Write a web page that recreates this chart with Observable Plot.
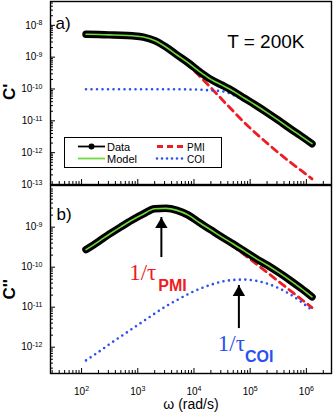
<!DOCTYPE html>
<html><head><meta charset="utf-8">
<script src="https://cdn.jsdelivr.net/npm/d3@7"></script>
<script src="https://cdn.jsdelivr.net/npm/@observablehq/plot@0.6"></script>
<style>
body{margin:0;background:#fff;}
#wrap{position:relative;width:333px;height:417px;overflow:hidden;background:#fff;font-family:"Liberation Sans",Arial,sans-serif;}
#wrap svg{display:block;}
#legend{position:absolute;left:0;top:0;}
</style></head><body><div id="wrap"></div>
<script>
// angular frequency (rad/s)
const omega = [120, 200, 316, 501, 794, 1260, 2000, 3160, 5010, 7940, 12600, 20000, 31600, 50100, 79400, 126000, 200000, 316000, 501000, 794000, 1260000];
// panel a: C'
const dataA  = [5.25e-9, 5.13e-9, 5.01e-9, 4.90e-9, 4.68e-9, 4.27e-9, 3.31e-9, 2.09e-9, 1.17e-9, 6.61e-10, 3.5e-10, 2.0e-10, 1.32e-10, 8.51e-11, 5.13e-11, 3.09e-11, 1.82e-11, 1.05e-11, 5.89e-12, 3.39e-12, 1.91e-12];
const modelA = [5.25e-9, 5.13e-9, 5.01e-9, 4.90e-9, 4.68e-9, 4.27e-9, 3.31e-9, 2.09e-9, 1.17e-9, 6.61e-10, 3.5e-10, 2.0e-10, 1.32e-10, 8.51e-11, 5.13e-11, 3.09e-11, 1.82e-11, 1.05e-11, 5.89e-12, 3.39e-12, 1.91e-12];
const pmiA   = [5.15e-9, 5.03e-9, 4.91e-9, 4.80e-9, 4.58e-9, 4.17e-9, 3.21e-9, 1.99e-9, 1.07e-9, 5.6e-10, 2.51e-10, 1.10e-10, 4.68e-11, 2.0e-11, 8.71e-12, 4.07e-12, 2.0e-12, 1.0e-12, 5.25e-13, 2.82e-13, 1.5e-13];
const coiA   = [9.8e-11, 9.8e-11, 9.8e-11, 9.8e-11, 9.8e-11, 9.8e-11, 9.8e-11, 9.8e-11, 9.8e-11, 9.7e-11, 9.5e-11, 9.0e-11, 8.5e-11, 6.5e-11, 4.26e-11, 2.68e-11, 1.62e-11, 9.5e-12, 5.37e-12, 3.1e-12, 1.7e-12];
// panel b: C''
const dataB  = [2.75e-10, 4.37e-10, 6.76e-10, 1.02e-9, 1.51e-9, 2.14e-9, 2.88e-9, 2.95e-9, 2.63e-9, 2.0e-9, 1.29e-9, 8.51e-10, 5.62e-10, 3.80e-10, 2.51e-10, 1.66e-10, 1.13e-10, 7.49e-11, 4.83e-11, 3.0e-11, 1.81e-11];
const modelB = [2.75e-10, 4.37e-10, 6.76e-10, 1.02e-9, 1.51e-9, 2.14e-9, 2.88e-9, 2.95e-9, 2.63e-9, 2.0e-9, 1.29e-9, 8.51e-10, 5.62e-10, 3.80e-10, 2.51e-10, 1.66e-10, 1.13e-10, 7.49e-11, 4.83e-11, 3.0e-11, 1.81e-11];
const pmiB   = [2.75e-10, 4.37e-10, 6.75e-10, 1.02e-9, 1.51e-9, 2.13e-9, 2.87e-9, 2.94e-9, 2.61e-9, 1.98e-9, 1.26e-9, 8.15e-10, 5.18e-10, 3.32e-10, 2.02e-10, 1.23e-10, 7.41e-11, 4.47e-11, 2.69e-11, 1.62e-11, 9.77e-12];
const coiB   = [4.68e-13, 7.59e-13, 1.20e-12, 1.86e-12, 2.88e-12, 4.47e-12, 6.92e-12, 1.05e-11, 1.51e-11, 2.14e-11, 2.88e-11, 3.63e-11, 4.37e-11, 4.79e-11, 4.90e-11, 4.57e-11, 3.89e-11, 3.02e-11, 2.14e-11, 1.38e-11, 8.32e-12];
// ticks
const xTicks  = [1e2, 1e3, 1e4, 1e5, 1e6];
const yTicksA = [1e-13, 1e-12, 1e-11, 1e-10, 1e-9, 1e-8];
const yTicksB = [1e-12, 1e-11, 1e-10, 1e-9];
// annotations (relaxation-time arrows in panel b)
const annotations = [
  {w: 2630, tip: 1.74e-9, tail: 1.74e-10, label: "1/τ", sub: "PMI", color: "#ee1c25", ldx: -5, sdx: -3},
  {w: 63000, tip: 3.48e-11, tail: 2.92e-12, label: "1/τ", sub: "COI", color: "#2b4ff0", ldx: 6, sdx: 6}
];
const RED = "#ee1c25", BLUE = "#2b4ff0", GREEN = "#6fd83a";
const xDomain = [28, 2.8e6];

const rowsA = omega.map((w, i) => ({w, data: dataA[i], model: modelA[i], pmi: pmiA[i], coi: coiA[i]}));
const rowsB = omega.map((w, i) => ({w, data: dataB[i], model: modelB[i], pmi: pmiB[i], coi: coiB[i]}));

function minors(lo, hi) {
  const out = [];
  for (let e = Math.floor(Math.log10(lo)); e <= Math.ceil(Math.log10(hi)); e++)
    for (let k = 2; k <= 9; k++) { const v = k * Math.pow(10, e); if (v >= lo && v <= hi) out.push(v); }
  return out;
}
const expFmt = d => "10^" + Math.round(Math.log10(d));
const none = () => "";

function axes(yMajor, yDomain, xLabels) {
  return [
    Plot.axisY(yMajor, {anchor: "left", tickSize: -5, tickPadding: 13, tickFormat: expFmt, fontSize: 10, label: null}),
    Plot.axisY(minors(yDomain[0], yDomain[1]), {anchor: "left", tickSize: -3, tickFormat: none, label: null}),
    Plot.axisX(xTicks, {anchor: "bottom", tickSize: -5, tickPadding: 19, tickFormat: xLabels ? expFmt : none, fontSize: 10, label: null}),
    Plot.axisX(minors(xDomain[0], xDomain[1]), {anchor: "bottom", tickSize: -3, tickFormat: none, label: null})
  ];
}
function curves(rows) {
  const c = "monotone-x";
  return [
    Plot.line(rows, {x: "w", y: "pmi", stroke: RED, strokeWidth: 2.8, strokeDasharray: "7,5", curve: c}),
    Plot.line(rows, {x: "w", y: "coi", stroke: BLUE, strokeWidth: 2.6, strokeDasharray: "0,5.5", strokeLinecap: "round", curve: c}),
    Plot.line(rows, {x: "w", y: "data", stroke: "black", strokeWidth: 7.5, strokeLinecap: "round", strokeLinejoin: "round", curve: c}),
    Plot.line(rows, {x: "w", y: "model", stroke: GREEN, strokeWidth: 1.6, curve: c})
  ];
}
const style = {fontFamily: "'Liberation Sans', Arial, sans-serif", fontSize: "10px", color: "black", background: "transparent", overflow: "visible"};
const yDomA = [1e-13, 5.6e-8], yDomB = [2.2e-13, 1.1e-8];

const plotA = Plot.plot({
  width: 333, height: 185, marginLeft: 50, marginRight: 2, marginTop: 1, marginBottom: 1,
  x: {type: "log", domain: xDomain, label: null},
  y: {type: "log", domain: yDomA, label: null},
  style,
  marks: [
    ...curves(rowsA),
    ...axes(yTicksA, yDomA, false),
    Plot.frame({stroke: "black", strokeWidth: 1.4}),
    Plot.text(["a)"], {frameAnchor: "top-left", dx: 5, dy: 15, fontSize: 17, textAnchor: "start"}),
    Plot.text(["T = 200K"], {frameAnchor: "top-right", dx: -27, dy: 33, fontSize: 19, textAnchor: "end"}),
    Plot.text(["C'"], {frameAnchor: "left", dx: -41, dy: 7, rotate: -90, fontSize: 17, fontWeight: "bold"})
  ]
});

const plotB = Plot.plot({
  width: 333, height: 232, marginLeft: 50, marginRight: 2, marginTop: 0, marginBottom: 44,
  x: {type: "log", domain: xDomain, label: null},
  y: {type: "log", domain: yDomB, label: null},
  style,
  marks: [
    ...curves(rowsB),
    ...axes(yTicksB, yDomB, true),
    Plot.frame({stroke: "black", strokeWidth: 1.4}),
    Plot.ruleX(annotations, {x: "w", y1: "tail", y2: "tip", stroke: "black", strokeWidth: 2}),
    Plot.dot(annotations, {x: "w", y: "tip", symbol: "triangle", r: 4.6, fill: "black", dy: 7}),
    ...annotations.flatMap(a => [
      Plot.text([a], {x: "w", y: "tail", text: "label", fill: "color", textAnchor: "end", dx: a.ldx, dy: 15, fontFamily: "'Liberation Serif', 'Times New Roman', serif", fontSize: 23}),
      Plot.text([a], {x: "w", y: "tail", text: "sub", fill: "color", textAnchor: "start", dx: a.sdx, dy: 28, fontSize: 16, fontWeight: "bold"})
    ]),
    Plot.text(["b)"], {frameAnchor: "top-left", dx: 6, dy: 22, fontSize: 17, textAnchor: "start"}),
    Plot.text(["C''"], {frameAnchor: "left", dx: -41, dy: 20, rotate: -90, fontSize: 17, fontWeight: "bold"}),
    Plot.text(["ω (rad/s)"], {frameAnchor: "bottom", dy: 35, fontSize: 14})
  ]
});

const NS = "http://www.w3.org/2000/svg";
function supers(svg) {
  svg.querySelectorAll("text").forEach(t => {
    const s = t.textContent;
    if (!/^10\^/.test(s)) return;
    const [b, e] = s.split("^");
    t.textContent = "";
    const a = document.createElementNS(NS, "tspan"); a.textContent = b; t.appendChild(a);
    const sp = document.createElementNS(NS, "tspan"); sp.textContent = e; sp.setAttribute("dy", "-0.45em"); sp.setAttribute("font-size", "7"); t.appendChild(sp);
  });
}
supers(plotA); supers(plotB);
const wrap = document.getElementById("wrap");
wrap.appendChild(plotA); wrap.appendChild(plotB);
plotA.style.position = "relative"; plotA.style.zIndex = "2";
plotB.style.position = "relative"; plotB.style.zIndex = "1";

// legend (panel a)
const lg = d3.select(wrap).append("svg").attr("id", "legend").attr("width", 333).attr("height", 417).style("z-index", 3);
lg.append("rect").attr("x", 64.5).attr("y", 137.5).attr("width", 157).attr("height", 30).attr("fill", "white").attr("stroke", "black").attr("stroke-width", 1);
const legendItems = [
  {name: "Data", col: 0, row: 0},
  {name: "Model", col: 0, row: 1},
  {name: "PMI", col: 1, row: 0},
  {name: "COI", col: 1, row: 1}
];
legendItems.forEach(it => {
  const x0 = it.col ? 157 : 78, x1 = it.col ? 185 : 105, y = it.row ? 158.5 : 146.5;
  const ln = lg.append("line").attr("x1", x0).attr("x2", x1).attr("y1", y).attr("y2", y);
  if (it.name === "Data") { ln.attr("stroke", "black").attr("stroke-width", 1.8); lg.append("circle").attr("cx", 91.5).attr("cy", y).attr("r", 3).attr("fill", "black"); }
  if (it.name === "Model") ln.attr("stroke", GREEN).attr("stroke-width", 1.8);
  if (it.name === "PMI") ln.attr("stroke", RED).attr("stroke-width", 3).attr("stroke-dasharray", "6,4");
  if (it.name === "COI") ln.attr("stroke", BLUE).attr("stroke-width", 2.6).attr("stroke-dasharray", "0,5").attr("stroke-linecap", "round");
  lg.append("text").attr("x", it.col ? 187 : 107).attr("y", y + 4).attr("font-size", it.col ? 10 : 11).attr("fill", "black").text(it.name);
});
</script></body></html>
